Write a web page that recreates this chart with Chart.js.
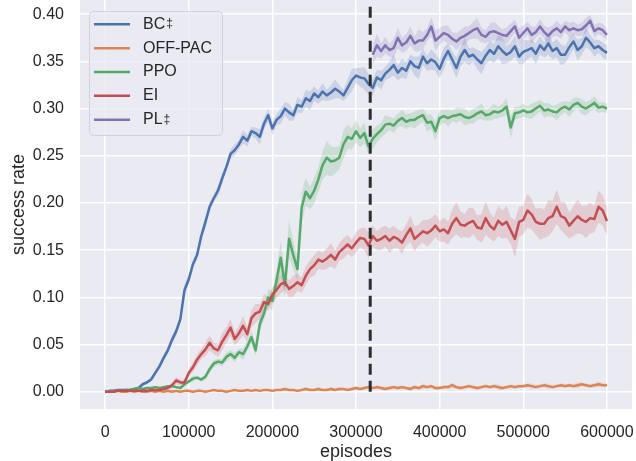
<!DOCTYPE html>
<html>
<head>
<meta charset="utf-8">
<script src="https://cdn.jsdelivr.net/npm/chart.js@4.4.0/dist/chart.umd.min.js"></script>
<style>
  body { margin: 0; background: #ffffff; }
</style>
</head>
<body>
<canvas id="successChart" width="636" height="461"></canvas>
<script>
// x positions: one sample every 5000 episodes, 0 .. 600000
const episodes = Array.from({ length: 121 }, (_, i) => i * 5000);
const plEpisodes = episodes.slice(64); // PL only runs after the split

const xTicks = [0, 100000, 200000, 300000, 400000, 500000, 600000];
const yTicks = [0, 0.05, 0.1, 0.15, 0.2, 0.25, 0.3, 0.35, 0.4];
const splitEpisode = 317000;
const splitTop = 0.408;

const names = ["BC", "OFF-PAC", "PPO", "EI", "PL"];
const marks = ["‡", "", "", "", "‡"];
const colors = ["#4C72B0", "#DD8452", "#55A868", "#C44E52", "#8172B3"];

// mean success rate
const bcRate = [
  0.000,0.001,0.001,0.002,0.002,0.002,0.002,0.003,0.004,0.008,
  0.010,0.013,0.020,0.027,0.036,0.044,0.055,0.064,0.077,0.108,
  0.119,0.135,0.145,0.165,0.180,0.196,0.205,0.213,0.226,0.238,
  0.252,0.256,0.262,0.270,0.266,0.276,0.274,0.270,0.284,0.293,
  0.279,0.288,0.292,0.300,0.296,0.293,0.304,0.302,0.311,0.308,
  0.316,0.312,0.318,0.314,0.317,0.321,0.318,0.314,0.322,0.330,
  0.335,0.333,0.332,0.326,0.322,0.333,0.330,0.337,0.341,0.346,
  0.338,0.343,0.340,0.350,0.345,0.343,0.355,0.348,0.352,0.349,
  0.342,0.353,0.361,0.352,0.343,0.355,0.362,0.355,0.357,0.352,
  0.348,0.356,0.362,0.358,0.366,0.361,0.357,0.360,0.366,0.355,
  0.360,0.362,0.364,0.358,0.367,0.362,0.369,0.361,0.364,0.357,
  0.357,0.365,0.371,0.362,0.366,0.375,0.370,0.364,0.366,0.362,
  0.359
];
const offpacRate = [
  0.000,0.000,0.000,0.001,0.000,0.000,0.001,0.000,0.001,0.000,
  0.000,0.001,0.000,0.001,0.000,0.001,0.000,0.001,0.000,0.001,
  0.001,0.000,0.001,0.001,0.000,0.001,0.002,0.001,0.001,0.000,
  0.001,0.002,0.001,0.001,0.002,0.001,0.002,0.001,0.002,0.002,
  0.001,0.002,0.002,0.003,0.002,0.002,0.001,0.002,0.003,0.002,
  0.002,0.003,0.002,0.002,0.003,0.002,0.003,0.003,0.002,0.003,
  0.004,0.003,0.004,0.005,0.004,0.005,0.004,0.003,0.004,0.005,
  0.004,0.005,0.004,0.003,0.005,0.004,0.006,0.005,0.006,0.004,
  0.004,0.005,0.005,0.007,0.005,0.004,0.005,0.006,0.005,0.004,
  0.005,0.006,0.005,0.006,0.005,0.004,0.005,0.006,0.005,0.006,
  0.006,0.007,0.006,0.005,0.006,0.007,0.006,0.005,0.006,0.007,
  0.006,0.007,0.006,0.007,0.008,0.007,0.006,0.007,0.008,0.007,
  0.007
];
const ppoRate = [
  0.000,0.000,0.001,0.001,0.001,0.002,0.002,0.003,0.004,0.003,
  0.004,0.004,0.005,0.004,0.005,0.006,0.006,0.005,0.004,0.008,
  0.011,0.014,0.015,0.013,0.016,0.024,0.030,0.032,0.031,0.037,
  0.040,0.036,0.042,0.040,0.048,0.058,0.044,0.072,0.083,0.100,
  0.096,0.118,0.142,0.113,0.162,0.145,0.130,0.195,0.212,0.205,
  0.213,0.225,0.240,0.248,0.244,0.245,0.248,0.262,0.270,0.268,
  0.276,0.269,0.274,0.260,0.268,0.273,0.277,0.283,0.284,0.282,
  0.287,0.290,0.286,0.288,0.288,0.291,0.293,0.285,0.286,0.276,
  0.290,0.292,0.290,0.292,0.293,0.294,0.291,0.290,0.292,0.295,
  0.297,0.293,0.294,0.297,0.296,0.298,0.302,0.280,0.295,0.296,
  0.298,0.296,0.297,0.300,0.303,0.298,0.299,0.297,0.296,0.300,
  0.302,0.299,0.304,0.306,0.302,0.300,0.303,0.306,0.301,0.302,
  0.300
];
const eiRate = [
  0.000,0.000,0.000,0.001,0.001,0.001,0.001,0.001,0.001,0.001,
  0.001,0.002,0.002,0.002,0.003,0.004,0.007,0.012,0.010,0.010,
  0.020,0.026,0.034,0.040,0.045,0.052,0.046,0.044,0.053,0.060,
  0.068,0.056,0.062,0.070,0.061,0.078,0.083,0.085,0.095,0.093,
  0.103,0.108,0.114,0.116,0.109,0.112,0.116,0.113,0.123,0.130,
  0.134,0.140,0.138,0.141,0.145,0.140,0.148,0.152,0.156,0.152,
  0.158,0.163,0.162,0.155,0.165,0.160,0.162,0.165,0.160,0.164,
  0.162,0.158,0.166,0.173,0.162,0.166,0.170,0.168,0.171,0.176,
  0.170,0.172,0.168,0.178,0.184,0.177,0.176,0.179,0.181,0.174,
  0.173,0.184,0.176,0.172,0.181,0.177,0.180,0.171,0.162,0.180,
  0.182,0.192,0.188,0.180,0.178,0.178,0.184,0.186,0.196,0.186,
  0.184,0.176,0.181,0.186,0.182,0.180,0.184,0.183,0.196,0.192,
  0.181
];
const plRate = [
  0.357,0.367,0.361,0.367,0.362,0.364,0.375,0.367,0.370,0.377,
  0.369,0.372,0.372,0.378,0.387,0.372,0.376,0.380,0.378,0.374,
  0.371,0.375,0.377,0.380,0.383,0.385,0.378,0.376,0.381,0.382,
  0.380,0.378,0.377,0.382,0.387,0.375,0.380,0.385,0.378,0.381,
  0.387,0.381,0.377,0.382,0.385,0.381,0.387,0.383,0.385,0.383,
  0.384,0.388,0.393,0.382,0.385,0.383,0.378
];

// half width of the shaded band around each mean
const bcSpread = [
  0.001,0.001,0.001,0.001,0.001,0.001,0.001,0.001,0.001,0.002,
  0.002,0.002,0.003,0.003,0.003,0.004,0.004,0.005,0.004,0.006,
  0.005,0.004,0.005,0.004,0.006,0.005,0.004,0.005,0.006,0.004,
  0.005,0.006,0.005,0.007,0.006,0.005,0.006,0.008,0.006,0.007,
  0.007,0.006,0.008,0.007,0.009,0.006,0.008,0.007,0.009,0.010,
  0.008,0.007,0.009,0.006,0.008,0.010,0.007,0.006,0.009,0.012,
  0.008,0.010,0.012,0.011,0.009,0.008,0.010,0.007,0.009,0.011,
  0.008,0.010,0.009,0.007,0.010,0.012,0.009,0.008,0.011,0.009,
  0.010,0.012,0.008,0.009,0.011,0.010,0.013,0.009,0.008,0.010,
  0.012,0.009,0.011,0.010,0.012,0.014,0.009,0.010,0.011,0.008,
  0.013,0.010,0.009,0.011,0.010,0.008,0.012,0.009,0.010,0.011,
  0.009,0.010,0.008,0.011,0.009,0.010,0.008,0.009,0.007,0.008,
  0.008
];
const offpacSpread = [
  0.000,0.000,0.000,0.001,0.000,0.001,0.001,0.000,0.001,0.001,
  0.000,0.001,0.001,0.001,0.000,0.001,0.001,0.001,0.000,0.001,
  0.001,0.001,0.001,0.001,0.001,0.001,0.001,0.001,0.001,0.001,
  0.001,0.001,0.001,0.001,0.001,0.001,0.001,0.001,0.001,0.001,
  0.001,0.001,0.001,0.002,0.001,0.001,0.001,0.001,0.002,0.001,
  0.001,0.002,0.001,0.001,0.002,0.001,0.002,0.001,0.001,0.002,
  0.002,0.001,0.002,0.002,0.001,0.002,0.002,0.001,0.002,0.002,
  0.002,0.002,0.001,0.002,0.002,0.002,0.003,0.002,0.002,0.002,
  0.002,0.002,0.002,0.003,0.002,0.002,0.002,0.002,0.002,0.002,
  0.002,0.002,0.002,0.002,0.003,0.002,0.002,0.002,0.002,0.002,
  0.002,0.002,0.003,0.002,0.002,0.002,0.003,0.002,0.002,0.002,
  0.002,0.002,0.002,0.003,0.002,0.002,0.002,0.002,0.003,0.002,
  0.002
];
const ppoSpread = [
  0.000,0.000,0.001,0.001,0.001,0.001,0.001,0.001,0.001,0.001,
  0.001,0.001,0.001,0.001,0.001,0.001,0.002,0.001,0.001,0.002,
  0.002,0.003,0.002,0.002,0.003,0.004,0.004,0.003,0.004,0.005,
  0.004,0.005,0.004,0.006,0.005,0.007,0.006,0.008,0.007,0.009,
  0.010,0.012,0.018,0.014,0.020,0.015,0.012,0.016,0.015,0.012,
  0.014,0.013,0.015,0.018,0.016,0.014,0.012,0.015,0.013,0.011,
  0.012,0.010,0.011,0.009,0.010,0.009,0.008,0.010,0.007,0.008,
  0.007,0.009,0.008,0.007,0.009,0.008,0.007,0.009,0.008,0.010,
  0.008,0.007,0.009,0.006,0.008,0.007,0.009,0.006,0.008,0.007,
  0.008,0.006,0.007,0.008,0.006,0.007,0.009,0.012,0.007,0.006,
  0.007,0.006,0.008,0.007,0.006,0.008,0.007,0.006,0.008,0.007,
  0.006,0.008,0.007,0.006,0.008,0.007,0.006,0.007,0.006,0.005,
  0.005
];
const eiSpread = [
  0.000,0.000,0.000,0.001,0.001,0.001,0.001,0.001,0.001,0.001,
  0.001,0.001,0.001,0.001,0.002,0.002,0.003,0.004,0.003,0.003,
  0.004,0.005,0.006,0.005,0.007,0.008,0.006,0.007,0.009,0.008,
  0.009,0.007,0.008,0.010,0.008,0.009,0.010,0.008,0.009,0.007,
  0.008,0.009,0.010,0.008,0.009,0.011,0.009,0.008,0.010,0.009,
  0.011,0.010,0.009,0.011,0.012,0.010,0.009,0.011,0.010,0.009,
  0.011,0.010,0.012,0.014,0.011,0.010,0.012,0.011,0.013,0.012,
  0.010,0.012,0.011,0.014,0.013,0.011,0.012,0.014,0.013,0.012,
  0.011,0.013,0.012,0.015,0.017,0.014,0.012,0.016,0.014,0.013,
  0.015,0.018,0.014,0.013,0.016,0.015,0.017,0.014,0.020,0.016,
  0.015,0.018,0.016,0.014,0.017,0.015,0.019,0.016,0.018,0.015,
  0.017,0.014,0.016,0.018,0.015,0.017,0.016,0.014,0.017,0.016,
  0.015
];
const plSpread = [
  0.010,0.012,0.008,0.009,0.007,0.010,0.011,0.008,0.009,0.010,
  0.008,0.012,0.009,0.007,0.010,0.011,0.009,0.008,0.010,0.007,
  0.009,0.008,0.010,0.007,0.009,0.011,0.008,0.007,0.009,0.010,
  0.008,0.006,0.009,0.008,0.007,0.010,0.008,0.007,0.009,0.006,
  0.008,0.007,0.009,0.006,0.008,0.007,0.006,0.008,0.007,0.006,
  0.007,0.008,0.006,0.007,0.006,0.007,0.006
];

const xs = [episodes, episodes, episodes, episodes, plEpisodes];
const means = [bcRate, offpacRate, ppoRate, eiRate, plRate];
const spreads = [bcSpread, offpacSpread, ppoSpread, eiSpread, plSpread];

function hexToRgba(hex, a) {
  const n = parseInt(hex.slice(1), 16);
  return `rgba(${(n >> 16) & 255},${(n >> 8) & 255},${n & 255},${a})`;
}

const datasets = [];

// shaded bands: upper edge, then lower edge filled back to it
means.forEach((mean, k) => {
  const band = hexToRgba(colors[k], 0.2);
  datasets.push({
    label: "_band",
    data: xs[k].map((e, i) => ({ x: e, y: mean[i] + (spreads[k][i] ?? 0) })),
    borderWidth: 0,
    pointRadius: 0,
    backgroundColor: band,
    fill: false,
    order: 20,
  });
  datasets.push({
    label: "_band",
    data: xs[k].map((e, i) => ({ x: e, y: mean[i] - (spreads[k][i] ?? 0) })),
    borderWidth: 0,
    pointRadius: 0,
    backgroundColor: band,
    fill: "-1",
    order: 20,
  });
});

// mean lines, BC at the bottom and PL on top
means.forEach((mean, k) => {
  datasets.push({
    label: names[k] + marks[k],
    data: xs[k].map((e, i) => ({ x: e, y: mean[i] })),
    borderColor: colors[k],
    borderWidth: 2.5,
    borderJoinStyle: "round",
    pointRadius: 0,
    fill: false,
    order: 10 - k,
  });
});

//vertical dashed split line
datasets.push({
  label: "_split",
  data: [{ x: splitEpisode, y: 0 }, { x: splitEpisode, y: splitTop }],
  borderColor: "#2e2e2e",
  borderWidth: 3,
  borderDash: [11, 6],
  borderCapStyle: "butt",
  pointRadius: 0,
  fill: false,
  order: 0,
});

const font = "'Liberation Sans', Arial, sans-serif";

const plotBackground = {
  id: "plotBackground",
  beforeDraw(chart) {
    const { ctx, chartArea: a } = chart;
    ctx.save();
    ctx.fillStyle = "#EAEAF2";
    ctx.fillRect(a.left, a.top, a.right - a.left, a.bottom - a.top);
    ctx.restore();
  },
};

const legendBox = {
  id: "legendBox",
  afterDraw(chart) {
    const c = chart.ctx;
    c.save();
    c.beginPath();
    c.roundRect(89.5, 11.5, 133, 124, 4);
    c.fillStyle = "rgba(234,234,242,0.8)";
    c.fill();
    c.strokeStyle = "#d2d2d8";
    c.lineWidth = 1;
    c.stroke();
    names.forEach((name, i) => {
      const y = 24.3 + i * 23.85;
      c.strokeStyle = colors[i];
      c.lineWidth = 2.5;
      c.beginPath();
      c.moveTo(94, y);
      c.lineTo(130, y);
      c.stroke();
      c.fillStyle = "#262626";
      c.font = "16px " + font;
      c.textBaseline = "middle";
      c.fillText(name, 143, y);
      if (marks[i]) {
        const w = c.measureText(name).width;
        c.font = "12px " + font;
        c.textBaseline = "alphabetic";
        c.fillText(marks[i], 143 + w + 1, y + 3);
      }
    });
    c.restore();
  },
};

// keep the plot box fixed: no extra room for overhanging tick labels
function noLabelPadding(scale) {
  scale.paddingTop = 0;
  scale.paddingBottom = 0;
  scale.paddingLeft = 0;
  scale.paddingRight = 0;
}

const ctx = document.getElementById("successChart");

new Chart(ctx, {
  type: "line",
  data: { datasets: datasets },
  plugins: [plotBackground, legendBox],
  options: {
    responsive: false,
    animation: false,
    events: [],
    layout: { padding: { top: 0, right: 4, bottom: 0, left: 0 } },
    plugins: {
      legend: { display: false },
      tooltip: { enabled: false },
    },
    scales: {
      x: {
        type: "linear",
        min: -30000,
        max: 630000,
        afterBuildTicks: (scale) => {
          scale.ticks = xTicks.map((v) => ({ value: v }));
        },
        afterFit: (scale) => {
          scale.height = 52;
          noLabelPadding(scale);
        },
        ticks: {
          color: "#262626",
          font: { family: font, size: 16 },
          padding: 14,
          maxRotation: 0,
          callback: (v) => String(v),
        },
        grid: { color: "#ffffff", lineWidth: 1.5, drawTicks: false },
        border: { display: false },
        title: {
          display: true,
          text: "episodes",
          color: "#262626",
          font: { family: font, size: 18, lineHeight: 1 },
          padding: { top: 0, bottom: 0 },
        },
      },
      y: {
        min: -0.0182,
        max: 0.415,
        afterBuildTicks: (scale) => {
          scale.ticks = yTicks.map((v) => ({ value: v }));
        },
        afterFit: (scale) => {
          scale.width = 80;
          noLabelPadding(scale);
        },
        ticks: {
          color: "#262626",
          font: { family: font, size: 16 },
          padding: 16,
          callback: (v) => v.toFixed(2),
        },
        grid: { color: "#ffffff", lineWidth: 1.5, drawTicks: false },
        border: { display: false },
        title: {
          display: true,
          text: "success rate",
          color: "#262626",
          font: { family: font, size: 18, lineHeight: 1 },
          padding: { top: 10, bottom: 0 },
        },
      },
    },
  },
});
</script>
</body>
</html>
